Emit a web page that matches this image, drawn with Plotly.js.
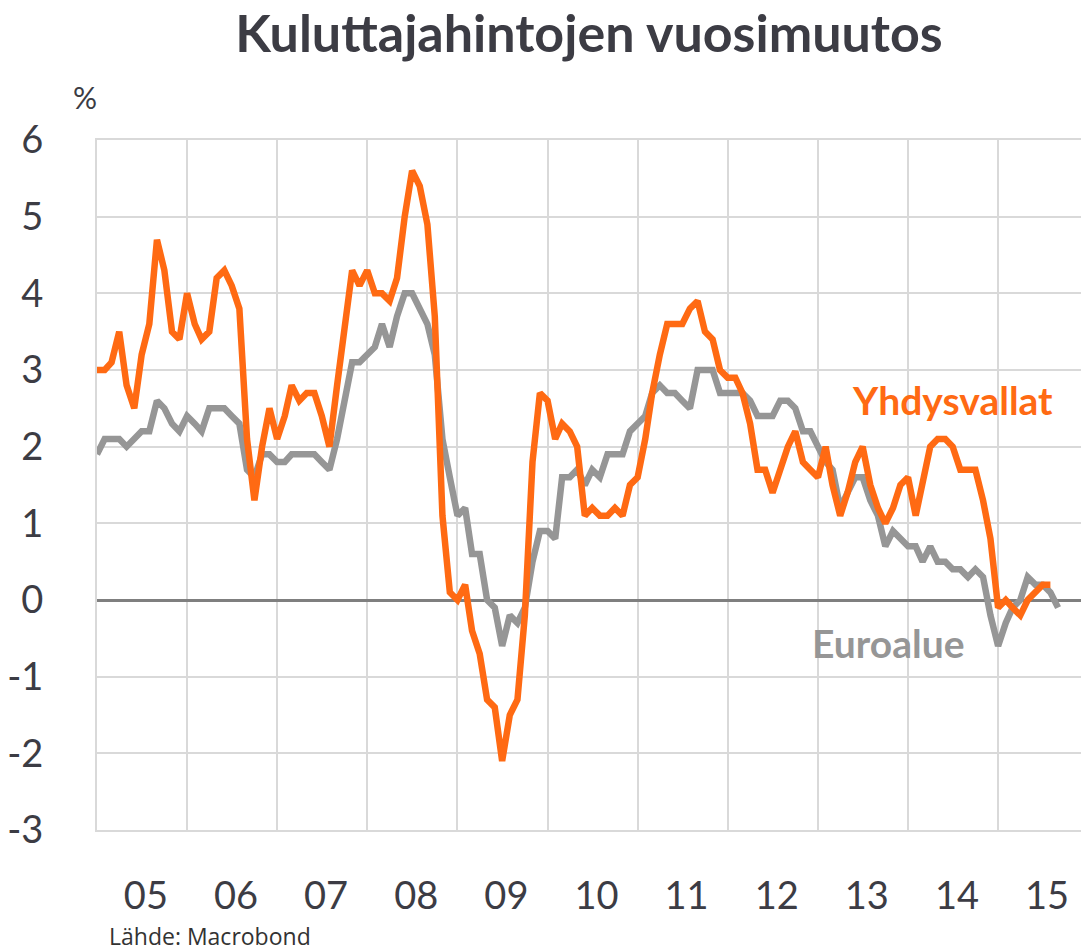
<!DOCTYPE html>
<html>
<head>
<meta charset="utf-8">
<script src="https://cdn.plot.ly/plotly-3.0.1.min.js"></script>
<style>
  html, body { margin: 0; padding: 0; background: #ffffff; }
  #chart { width: 1081px; height: 951px; }
</style>
</head>
<body>
<div id="chart"></div>
<script>
// Monthly year-on-year change in consumer prices, %, Jan 2005 onwards
const startYear = 2005;

// Yhdysvallat (USA), Jan 2005 – Aug 2015
const usCPI = [
  3.0, 3.0, 3.1, 3.5, 2.8, 2.5, 3.2, 3.6, 4.7, 4.3, 3.5, 3.4,
  4.0, 3.6, 3.4, 3.5, 4.2, 4.3, 4.1, 3.8, 2.1, 1.3, 2.0, 2.5,
  2.1, 2.4, 2.8, 2.6, 2.7, 2.7, 2.4, 2.0, 2.8, 3.5, 4.3, 4.1,
  4.3, 4.0, 4.0, 3.9, 4.2, 5.0, 5.6, 5.4, 4.9, 3.7, 1.1, 0.1,
  0.0, 0.2, -0.4, -0.7, -1.3, -1.4, -2.1, -1.5, -1.3, -0.2, 1.8, 2.7,
  2.6, 2.1, 2.3, 2.2, 2.0, 1.1, 1.2, 1.1, 1.1, 1.2, 1.1, 1.5,
  1.6, 2.1, 2.7, 3.2, 3.6, 3.6, 3.6, 3.8, 3.9, 3.5, 3.4, 3.0,
  2.9, 2.9, 2.7, 2.3, 1.7, 1.7, 1.4, 1.7, 2.0, 2.2, 1.8, 1.7,
  1.6, 2.0, 1.5, 1.1, 1.4, 1.8, 2.0, 1.5, 1.2, 1.0, 1.2, 1.5,
  1.6, 1.1, 1.5, 2.0, 2.1, 2.1, 2.0, 1.7, 1.7, 1.7, 1.3, 0.8,
  -0.1, 0.0, -0.1, -0.2, 0.0, 0.1, 0.2, 0.2
];

// Euroalue (euro area), Jan 2005 – Sep 2015
const euroHICP = [
  1.9, 2.1, 2.1, 2.1, 2.0, 2.1, 2.2, 2.2, 2.6, 2.5, 2.3, 2.2,
  2.4, 2.3, 2.2, 2.5, 2.5, 2.5, 2.4, 2.3, 1.7, 1.6, 1.9, 1.9,
  1.8, 1.8, 1.9, 1.9, 1.9, 1.9, 1.8, 1.7, 2.1, 2.6, 3.1, 3.1,
  3.2, 3.3, 3.6, 3.3, 3.7, 4.0, 4.0, 3.8, 3.6, 3.2, 2.1, 1.6,
  1.1, 1.2, 0.6, 0.6, 0.0, -0.1, -0.6, -0.2, -0.3, -0.1, 0.5, 0.9,
  0.9, 0.8, 1.6, 1.6, 1.7, 1.5, 1.7, 1.6, 1.9, 1.9, 1.9, 2.2,
  2.3, 2.4, 2.7, 2.8, 2.7, 2.7, 2.6, 2.5, 3.0, 3.0, 3.0, 2.7,
  2.7, 2.7, 2.7, 2.6, 2.4, 2.4, 2.4, 2.6, 2.6, 2.5, 2.2, 2.2,
  2.0, 1.8, 1.7, 1.2, 1.4, 1.6, 1.6, 1.3, 1.1, 0.7, 0.9, 0.8,
  0.7, 0.7, 0.5, 0.7, 0.5, 0.5, 0.4, 0.4, 0.3, 0.4, 0.3, -0.2,
  -0.6, -0.3, -0.1, 0.0, 0.3, 0.2, 0.2, 0.1, -0.1
];

const years = [2005, 2006, 2007, 2008, 2009, 2010, 2011, 2012, 2013, 2014, 2015];
const yearLabels = ['05', '06', '07', '08', '09', '10', '11', '12', '13', '14', '15'];
const yTicks = [-3, -2, -1, 0, 1, 2, 3, 4, 5, 6];

function monthDates(n) {
  const out = [];
  for (let i = 0; i < n; i++) {
    const y = startYear + Math.floor(i / 12);
    const m = (i % 12) + 1;
    out.push(y + '-' + String(m).padStart(2, '0') + '-01');
  }
  return out;
}

const ORANGE = '#ff6a13';
const GREY = '#969696';
const TEXT = '#3c3c44';
const GRID = '#d9d9d9';
const FONT = 'Lato, "Open Sans", sans-serif';

const traces = [
  {
    x: monthDates(euroHICP.length), y: euroHICP, type: 'scatter', mode: 'lines',
    name: 'Euroalue', line: { color: GREY, width: 6.5 }, hoverinfo: 'x+y'
  },
  {
    x: monthDates(usCPI.length), y: usCPI, type: 'scatter', mode: 'lines',
    name: 'Yhdysvallat', line: { color: ORANGE, width: 6.5 }, hoverinfo: 'x+y'
  }
];

const layout = {
  width: 1081, height: 951,
  paper_bgcolor: '#ffffff', plot_bgcolor: '#ffffff',
  margin: { l: 97, r: 0, t: 140, b: 121 },
  showlegend: false,
  font: { family: FONT, color: TEXT },
  title: {
    text: 'Kuluttajahintojen vuosimuutos',
    font: { family: FONT, size: 52, color: TEXT, weight: 'bold' },
    x: 0.5, xref: 'paper', xanchor: 'center',
    y: 1 - 34 / 951, yref: 'container', yanchor: 'middle'
  },
  xaxis: {
    type: 'date',
    range: ['2005-01-01', '2015-12-03'],
    tickmode: 'array',
    tickvals: years.map(y => y + '-07-02'),
    ticktext: yearLabels,
    ticks: '',
    showgrid: false,
    zeroline: false,
    showline: true, linecolor: GRID, linewidth: 2, mirror: true,
    ticklabelstandoff: 31,
    ticklabelshift: 4,
    tickfont: { family: FONT, size: 38, color: TEXT },
    minor: {
      tickmode: 'array',
      tickvals: years.map(y => y + '-01-01'),
      showgrid: true, gridcolor: GRID, gridwidth: 2, ticks: ''
    },
    fixedrange: true
  },
  yaxis: {
    range: [-3, 6],
    tickmode: 'array',
    tickvals: yTicks,
    ticktext: yTicks.map(String),
    ticks: '',
    showgrid: true, gridcolor: GRID, gridwidth: 2,
    zeroline: true, zerolinecolor: '#7f7f7f', zerolinewidth: 3,
    showline: true, linecolor: GRID, linewidth: 2,
    ticklabelstandoff: 44,
    tickfont: { family: FONT, size: 38, color: TEXT },
    fixedrange: true
  },
  annotations: [
    {
      text: 'Yhdysvallat', x: '2014-07-01', y: 2.61, xref: 'x', yref: 'y',
      showarrow: false, xanchor: 'center', yanchor: 'middle',
      font: { family: FONT, size: 39, color: ORANGE, weight: 'bold' }
    },
    {
      text: 'Euroalue', x: '2013-10-12', y: -0.56, xref: 'x', yref: 'y',
      showarrow: false, xanchor: 'center', yanchor: 'middle',
      font: { family: FONT, size: 39, color: GREY, weight: 'bold' }
    },
    {
      text: '%', x: (85 - 97) / 984, y: (830 - 97) / 690, xref: 'paper', yref: 'paper',
      showarrow: false, xanchor: 'center', yanchor: 'middle',
      font: { family: FONT, size: 30, color: TEXT }
    },
    {
      text: 'Lähde: Macrobond', x: (107 - 97) / 984, y: (830 - 936) / 690, xref: 'paper', yref: 'paper',
      showarrow: false, xanchor: 'left', yanchor: 'middle',
      font: { family: '"Open Sans", Lato, sans-serif', size: 23, color: '#333333' }
    }
  ]
};

Plotly.newPlot('chart', traces, layout, { displayModeBar: false, staticPlot: true });
</script>
</body>
</html>
